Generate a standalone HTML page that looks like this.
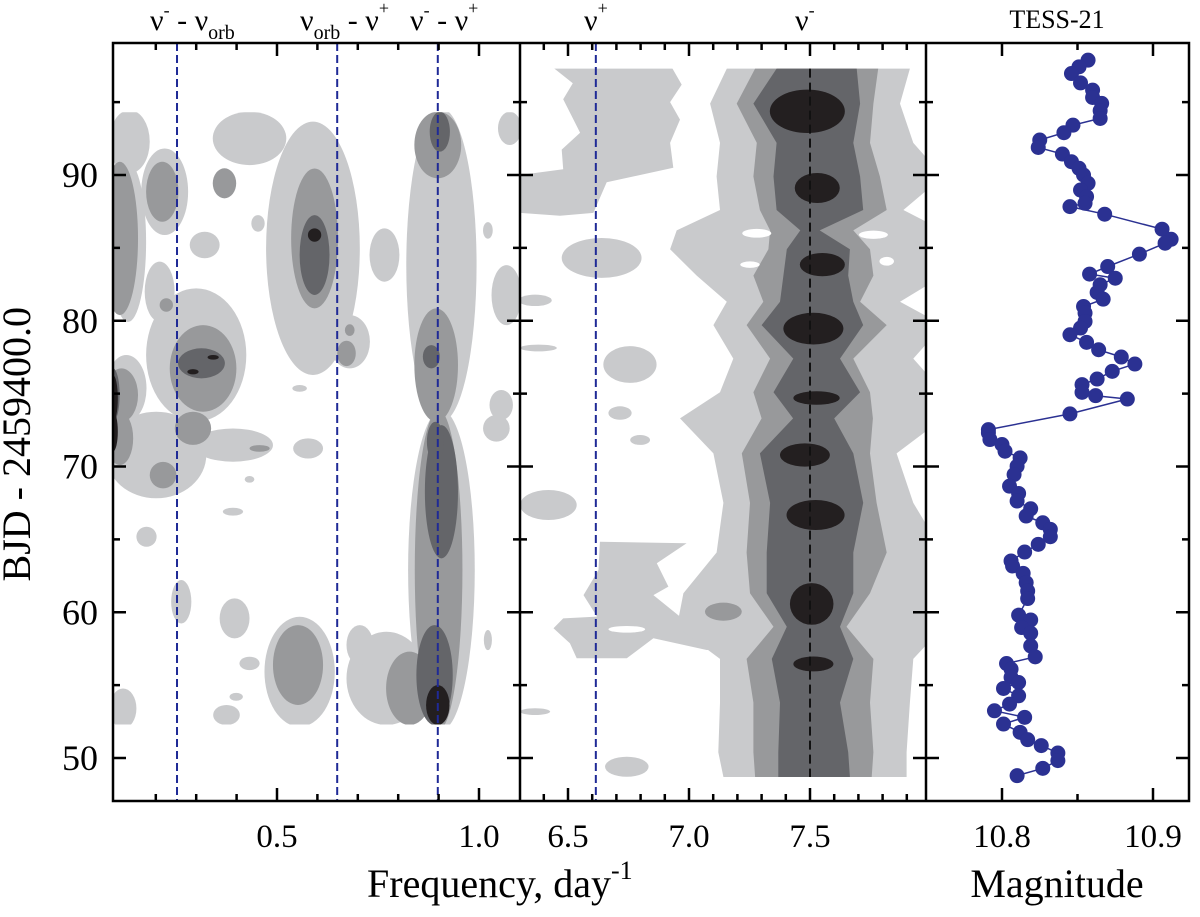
<!DOCTYPE html>
<html><head><meta charset="utf-8"><style>
html,body{margin:0;padding:0;background:#fff;}
svg{display:block;font-family:"Liberation Serif",serif;}
</style></head><body>
<svg id="chart" width="1200" height="917" viewBox="0 0 1200 917" xmlns="http://www.w3.org/2000/svg">
<defs>
<clipPath id="clipL"><rect x="113" y="112.3" width="407" height="612.2"/></clipPath>
<clipPath id="clipM"><rect x="520" y="68.6" width="406" height="708.4"/></clipPath>
<clipPath id="clipR"><rect x="926" y="43" width="263" height="758"/></clipPath>
</defs>
<g id="gL" clip-path="url(#clipL)"></g>
<g id="gM" clip-path="url(#clipM)"></g>
<g id="gLines"></g>
<g id="gR" clip-path="url(#clipR)"></g>
<g id="gAxes"></g>
<g id="gText">
<text transform="translate(30,307) rotate(-90)" text-anchor="end" font-size="40">BJD - 2459400.0</text>
<text x="367" y="897" font-size="40">Frequency, day<tspan font-size="26" dy="-18">-1</tspan></text>
<text x="1057" y="897" font-size="40" text-anchor="middle">Magnitude</text>
<text x="1057" y="28" font-size="26" text-anchor="middle">TESS-21</text>
<text x="150" y="30" font-size="30">ν<tspan font-size="18" dy="-14">-</tspan><tspan dy="14"> - ν</tspan><tspan font-size="20" dy="9">orb</tspan></text>
<text x="300" y="30" font-size="30">ν<tspan font-size="20" dy="9">orb</tspan><tspan dy="-9"> - ν</tspan><tspan font-size="18" dy="-16">+</tspan></text>
<text x="410" y="30" font-size="30">ν<tspan font-size="18" dy="-14">-</tspan><tspan dy="14"> - ν</tspan><tspan font-size="18" dy="-16">+</tspan></text>
<text x="584" y="30" font-size="30">ν<tspan font-size="18" dy="-16">+</tspan></text>
<text x="795" y="30" font-size="30">ν<tspan font-size="18" dy="-14">-</tspan></text>
</g>
</svg>
<script>
// ---------- data ----------
const levelColors = ["#c9cacc", "#98999b", "#646569", "#231f20"];
// left panel blobs: [freq, jd, rFreq, rJd, level]
const leftBlobs = [
 [0.135,92.28,0.050,2.17,0],[0.222,88.85,0.058,2.97,0],[0.432,92.51,0.091,1.83,0],[0.589,84.97,0.116,8.69,0],
 [0.321,85.2,0.037,0.91,0],[0.131,85.4,0.045,5.49,0],[0.127,75.36,0.05,2.29,0],[0.300,77.65,0.124,4.57,0],
 [0.907,83.82,0.087,10.75,0],[0.766,84.51,0.037,1.83,0],[0.680,78.56,0.05,1.83,0],[1.076,93.2,0.029,1.14,0],
 [1.022,86.2,0.012,0.57,0],[1.068,81.76,0.037,2.06,0],[1.055,74.22,0.029,1.03,0],[0.556,75.36,0.018,0.23,0],
 [0.453,86.68,0.0165,0.57,0],[0.2095,82.0,0.037,2.06,0],
 [0.201,70.79,0.124,2.97,0],[0.391,71.47,0.099,1.14,0],[0.577,71.24,0.037,0.69,0],[0.907,62.9,0.0825,10.98,0],
 [0.556,55.92,0.087,3.77,0],[0.771,55.46,0.099,3.2,0],[0.705,57.75,0.033,1.37,0],[0.263,60.72,0.025,1.49,0],
 [0.395,59.58,0.037,1.37,0],[0.432,56.49,0.025,0.46,0],[0.391,66.9,0.025,0.27,0],[0.432,69.12,0.012,0.23,0],
 [0.177,65.18,0.025,0.69,0],[1.022,58.09,0.01,0.69,0],[1.043,72.62,0.033,0.91,0],[0.119,53.4,0.033,1.37,0],
 [0.375,52.95,0.033,0.69,0],[0.399,54.2,0.0165,0.27,0],
 [0.593,85.65,0.058,4.80,1],[0.370,89.43,0.029,1.03,1],[0.216,88.85,0.040,2.06,1],[0.111,85.65,0.045,5.26,1],
 [0.115,74.9,0.041,1.83,1],[0.317,76.73,0.0825,2.97,1],[0.898,92.06,0.058,2.29,1],[0.894,76.96,0.054,3.89,1],
 [0.672,77.76,0.023,0.87,1],[0.226,81.08,0.0165,0.46,1],[0.680,79.36,0.012,0.4,1],
 [0.218,69.41,0.033,0.91,1],[0.292,72.62,0.045,1.14,1],[0.457,71.24,0.025,0.23,1],[0.111,71.93,0.033,1.83,1],
 [0.900,62.9,0.059,10.98,1],[0.552,56.38,0.062,2.74,1],[0.828,54.78,0.058,2.52,1],
 [0.593,84.51,0.037,2.74,2],[0.313,77.08,0.058,1.03,2],[0.903,92.97,0.025,1.37,2],[0.882,77.53,0.021,0.8,2],
 [0.094,74.9,0.0165,1.83,2],[0.907,68.27,0.041,4.57,2],[0.890,55.69,0.045,3.43,2],[0.892,71.7,0.021,1.37,2],
 [0.593,85.88,0.0165,0.46,3],[0.292,76.5,0.014,0.18,3],[0.342,77.49,0.014,0.16,3],[0.094,74.67,0.012,1.6,3],
 [0.898,53.63,0.029,1.37,3],[0.094,72.4,0.012,1.37,3]
];
// middle band rows
const bandJd  = [97.3,94.9,92.2,89.9,87.6,86.2,84.9,83.1,81.3,79.7,77.4,75.1,73.3,70.9,67.5,64.1,61.3,59.0,56.8,53.8,50.4,48.7];
const band1L  = [7.156,7.087,7.128,7.114,7.128,6.949,6.922,7.032,7.156,7.101,7.183,7.128,6.963,7.101,7.142,7.114,6.977,6.95,7.128,7.128,7.121,7.142];
const band1R  = [7.913,7.872,7.927,7.98,7.886,7.98,7.98,7.98,7.872,7.98,7.927,7.98,7.98,7.858,7.927,7.98,7.98,7.98,7.927,7.913,7.899,7.899];
const band2L  = [7.273,7.197,7.280,7.266,7.293,7.335,7.328,7.266,7.307,7.238,7.335,7.266,7.30,7.218,7.252,7.238,7.252,7.349,7.238,7.266,7.266,7.273];
const band2R  = [7.782,7.762,7.748,7.789,7.817,7.679,7.748,7.762,7.707,7.817,7.679,7.748,7.76,7.748,7.775,7.817,7.748,7.651,7.762,7.748,7.762,7.755];
const band3L  = [7.362,7.266,7.362,7.349,7.362,7.46,7.404,7.390,7.376,7.300,7.431,7.349,7.43,7.293,7.335,7.321,7.321,7.404,7.342,7.376,7.369,7.369];
const band3R  = [7.693,7.707,7.679,7.707,7.720,7.54,7.665,7.658,7.679,7.720,7.624,7.707,7.60,7.679,7.720,7.679,7.679,7.624,7.679,7.624,7.658,7.665];
// black peaks of nu-minus: [freq, jd, rFreq, rJd]
const peaks = [[7.489,94.37,0.155,1.49],[7.530,89.11,0.093,1.03],[7.551,83.85,0.093,0.8],[7.514,79.46,0.124,1.09],
 [7.527,74.7,0.096,0.46],[7.479,70.79,0.103,0.8],[7.523,66.67,0.12,1.03],[7.507,60.57,0.09,1.43],[7.514,56.45,0.083,0.51]];
// extra middle patches: [freq, jd, rFreq, rJd, level] (level -1 = white hole)
const midPatches = [[6.639,84.31,0.165,1.37,0],[6.364,81.4,0.069,0.39,0],[6.378,78.13,0.076,0.23,0],[6.756,77.0,0.11,1.26,0],
 [6.715,73.67,0.048,0.46,0],[6.419,67.36,0.117,1.03,0],[6.364,53.18,0.062,0.23,0],[6.743,49.4,0.09,0.69,0],[6.798,71.82,0.041,0.34,0]];
const midHoles = [[7.28,86.0,0.06,0.3],[7.762,85.9,0.06,0.28],[7.252,83.85,0.04,0.22],[7.817,84.08,0.03,0.3],[6.743,58.83,0.076,0.23]];
const midPatch2 = [[7.142,60.04,0.076,0.62]];
const polyTopF = [6.44,6.52,6.48,6.55,6.474,6.48,6.30,6.30,6.467,6.605,6.66,6.935,6.922,6.963,6.922,6.97,6.93];
const polyTopJ = [97.35,96.3,95.2,92.9,91.74,90.4,90.0,87.4,87.2,87.4,89.5,90.5,92.2,93.8,95.0,96.2,97.35];
const polyLowF = [6.632,6.99,6.867,6.915,6.853,6.963,7.073,7.266,7.266,7.073,6.853,6.743,6.536,6.508,6.44,6.48,6.62,6.564,6.626];
const polyLowJ = [64.84,64.73,63.36,61.76,61.18,59.7,60.6,60.4,57.6,57.41,58.21,56.84,56.84,57.87,58.9,59.58,59.7,61.18,62.9];
// reference frequencies
const leftRefs = [0.2525, 0.649, 0.898];
const midRefs = [6.615];
const nuMinus = 7.5;
// light curve
const magJd = [97.88,97.42,96.96,96.32,95.82,95.32,94.91,94.41,93.88,93.42,92.90,92.40,91.89,91.44,90.91,90.46,90.0,89.43,88.97,88.52,88.06,87.83,87.31,86.28,85.59,85.32,84.57,83.72,83.20,82.92,82.47,81.94,81.48,80.98,80.53,79.95,79.50,79.04,78.52,78.01,77.51,77.03,76.53,76.0,75.62,75.09,74.86,74.63,73.61,72.53,
 72.31,71.85,71.51,71.05,70.59,70.02,69.45,68.65,68.15,67.63,67.10,66.60,66.14,65.69,65.18,64.66,64.13,63.52,63.17,62.67,62.03,61.46,60.94,59.80,59.47,58.95,58.56,57.69,56.94,56.48,56.10,55.53,55.18,54.77,54.27,53.70,53.24,52.79,52.33,51.76,51.26,50.85,50.34,49.82,49.29,48.79];
const magVal = [10.857,10.851,10.846,10.852,10.860,10.860,10.866,10.865,10.865,10.847,10.841,10.825,10.824,10.840,10.846,10.851,10.854,10.857,10.852,10.856,10.855,10.845,10.868,10.906,10.912,10.908,10.891,10.870,10.858,10.875,10.865,10.863,10.867,10.854,10.855,10.855,10.852,10.845,10.856,10.864,10.879,10.888,10.873,10.863,10.853,10.853,10.862,10.883,10.845,10.791,
 10.791,10.792,10.800,10.802,10.812,10.810,10.808,10.805,10.811,10.810,10.819,10.816,10.827,10.832,10.832,10.824,10.815,10.806,10.807,10.814,10.816,10.817,10.817,10.811,10.819,10.813,10.819,10.819,10.822,10.803,10.806,10.806,10.811,10.801,10.811,10.805,10.795,10.815,10.801,10.812,10.817,10.826,10.837,10.837,10.827,10.810];
// ticks
const yMajor = [50,60,70,80,90];
const yMinor = [55,65,75,85,95];
const xLMajor = [0.5,1.0], xLMinor = [0.2,0.3,0.4,0.6,0.7,0.8,0.9];
const xMMajor = [6.5,7.0,7.5], xMMinor = [6.4,6.6,6.7,6.8,6.9,7.1,7.2,7.3,7.4,7.6,7.7,7.8,7.9];
const xRMajor = [10.8,10.9], xRMinor = [10.85];

// ---------- scales ----------
const yS = j => 175 + (90 - j) * 14.575;
const xL = f => 277 + (f - 0.5) * 404;
const xM = f => 568 + (f - 6.5) * 242;
const xR = m => 1002 + (m - 10.8) * 1510;
const NS = "http://www.w3.org/2000/svg";
function mk(tag, parent, attrs){ const e = document.createElementNS(NS, tag); for (const k in attrs) e.setAttribute(k, attrs[k]); parent.appendChild(e); return e; }

// ---------- left panel ----------
const gL = document.getElementById('gL');
for (let lev = 0; lev < 4; lev++) {
  leftBlobs.filter(b => b[4] === lev).forEach(b => {
    const e = mk('ellipse', gL, {cx: xL(b[0]), cy: yS(b[1]), rx: b[2]*404, ry: b[3]*14.575, fill: levelColors[lev]});
    
    
  });
}

// ---------- middle panel ----------
const gM = document.getElementById('gM');
function poly(fs, js, fill, name){
  const pts = fs.map((f,i)=> xM(f).toFixed(1)+','+yS(js[i]).toFixed(1)).join(' ');
  const p = mk('polygon', gM, {points: pts, fill: fill});
  
  
}
poly(polyTopF, polyTopJ, levelColors[0], 'contour-patch');
poly(polyLowF, polyLowJ, levelColors[0], 'contour-patch');
midPatches.forEach(b => {
  const e = mk('ellipse', gM, {cx: xM(b[0]), cy: yS(b[1]), rx: b[2]*242, ry: b[3]*14.575, fill: levelColors[b[4]]});
  
  
});
function band(Ls, Rs, fill, name){
  const fs = [], js = [];
  const top = bandJd[0] + 0.5, bot = bandJd[bandJd.length-1] - 0.5;
  fs.push(Ls[0]); js.push(top);
  Ls.forEach((v,i)=>{ fs.push(v); js.push(bandJd[i]); });
  fs.push(Ls[Ls.length-1]); js.push(bot);
  fs.push(Rs[Rs.length-1]); js.push(bot);
  for (let i = Rs.length-1; i >= 0; i--) { fs.push(Rs[i] >= 7.98 ? 8.05 : Rs[i]); js.push(bandJd[i]); }
  fs.push(Rs[0]); js.push(top);
  poly(fs, js, fill, name);
}
band(band1L, band1R, levelColors[0], 'nu-minus-band-level-1');
midPatch2.forEach(b => {
  const e = mk('ellipse', gM, {cx: xM(b[0]), cy: yS(b[1]), rx: b[2]*242, ry: b[3]*14.575, fill: levelColors[1]});
  
  
});
band(band2L, band2R, levelColors[1], 'nu-minus-band-level-2');
band(band3L, band3R, levelColors[2], 'nu-minus-band-level-3');
midHoles.forEach(b => {
  const e = mk('ellipse', gM, {cx: xM(b[0]), cy: yS(b[1]), rx: b[2]*242, ry: b[3]*14.575, fill: '#ffffff'});
  
  
});
peaks.forEach(b => {
  const e = mk('ellipse', gM, {cx: xM(b[0]), cy: yS(b[1]), rx: b[2]*242, ry: b[3]*14.575, fill: levelColors[3]});
  
  
});

// ---------- reference lines ----------
const gLines = document.getElementById('gLines');
leftRefs.forEach(f => {
  const l = mk('line', gLines, {x1: xL(f), x2: xL(f), y1: 43, y2: 801, stroke: '#1f2a96', 'stroke-width': 2, 'stroke-dasharray': '8,4'});
  
  
});
midRefs.forEach(f => {
  const l = mk('line', gLines, {x1: xM(f), x2: xM(f), y1: 43, y2: 801, stroke: '#1f2a96', 'stroke-width': 2, 'stroke-dasharray': '8,4'});
  
  
});
const nl = mk('line', gLines, {x1: xM(nuMinus), x2: xM(nuMinus), y1: yS(97.3), y2: yS(48.7), stroke: '#111', 'stroke-width': 2, 'stroke-dasharray': '9,5'});



// ---------- light curve ----------
const gR = document.getElementById('gR');
const pl = mk('polyline', gR, {points: magVal.map((m,i)=> xR(m).toFixed(1)+','+yS(magJd[i]).toFixed(1)).join(' '), fill: 'none', stroke: '#2b3192', 'stroke-width': 1.5});


magVal.forEach((m,i) => {
  const c = mk('circle', gR, {cx: xR(m), cy: yS(magJd[i]), r: 7.5, fill: '#2b3192'});
  
  
});

// ---------- axes ----------
const gA = document.getElementById('gAxes');
const spines = [113, 520, 926, 1189];
const fr = mk('rect', gA, {x: 113, y: 43, width: 1076, height: 758, fill: 'none', stroke: '#000', 'stroke-width': 2.5});


[520, 926].forEach(x => {
  const l = mk('line', gA, {x1: x, x2: x, y1: 43, y2: 801, stroke: '#000', 'stroke-width': 2.5});
  
  
});
function yTick(v, len){
  spines.forEach((x,i) => {
    const y = yS(v);
    const x1 = i === 0 ? x : x - len, x2 = i === 3 ? x : x + len;
    const t = mk('line', gA, {x1: x1, x2: x2, y1: y, y2: y, stroke: '#000', 'stroke-width': 2.5});
    
    
  });
}
yMajor.forEach(v => {
  yTick(v, 13);
  const t = mk('text', gA, {x: 98, y: yS(v) + 12, 'font-size': 36, 'text-anchor': 'end'});
  t.textContent = v;
  
  
});
yMinor.forEach(v => yTick(v, 7));
function xTicks(scale, majors, minors){
  majors.forEach(v => {
    const x = scale(v);
    [[801, 788],[43, 56]].forEach(p => {
      const t = mk('line', gA, {x1: x, x2: x, y1: p[0], y2: p[1], stroke: '#000', 'stroke-width': 2.5});
      
      
    });
    const lab = mk('text', gA, {x: x, y: 847, 'font-size': 33, 'text-anchor': 'middle'});
    lab.textContent = v.toFixed(1);
    
    
  });
  minors.forEach(v => {
    const x = scale(v);
    [[801, 794],[43, 50]].forEach(p => {
      const t = mk('line', gA, {x1: x, x2: x, y1: p[0], y2: p[1], stroke: '#000', 'stroke-width': 2.5});
      
      
    });
  });
}
xTicks(xL, xLMajor, xLMinor);
xTicks(xM, xMMajor, xMMinor);
xTicks(xR, xRMajor, xRMinor);
</script>
</body></html>
